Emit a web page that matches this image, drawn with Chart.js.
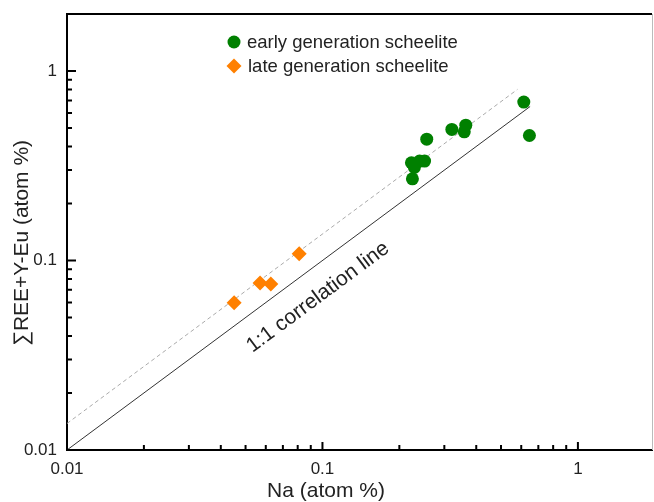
<!DOCTYPE html>
<html>
<head>
<meta charset="utf-8">
<script src="https://cdn.jsdelivr.net/npm/chart.js@4.4.0/dist/chart.umd.min.js"></script>
<style>
  html, body { margin: 0; padding: 0; background: #fff; overflow: hidden; }
</style>
</head>
<body>
<canvas id="grafico" width="654" height="502"></canvas>
<script>
// dados (atom %)
const earlyNa  = [0.614, 0.646, 0.256, 0.321, 0.364, 0.359, 0.223, 0.229, 0.240, 0.251, 0.225];
const earlyREE = [0.686, 0.457, 0.437, 0.492, 0.518, 0.478, 0.328, 0.310, 0.335, 0.335, 0.270];
const lateNa   = [0.0451, 0.0570, 0.0628, 0.0811];
const lateREE  = [0.0599, 0.0761, 0.0752, 0.1086];

// linha 1:1 e linha tracejada (ajuste)
const lineNa   = [0.01, 0.65];
const lineREE  = [0.01, 0.65];
const dashNa   = [0.01, 0.58];
const dashREE  = [0.0138, 0.80];

const majorTicks = [0.01, 0.1, 1];
const minorTicks = [0.02, 0.03, 0.04, 0.05, 0.06, 0.07, 0.08, 0.09, 0.2, 0.3, 0.4, 0.5, 0.6, 0.7, 0.8, 0.9];

const seriesLabels = ["early generation scheelite", "late generation scheelite"];
const xTitle = "Na (atom %)";
const yTitle = "\u2211REE+Y-Eu (atom %)";
const lineLabel = "1:1 correlation line";

const GREEN = "#008000";
const ORANGE = "#ff8000";
const FONT = "'Liberation Sans', Arial, sans-serif";

function pontos(xs, ys) {
  return xs.map((x, i) => ({ x: x, y: ys[i] }));
}

// moldura, ticks internos, legenda e textos
const molduraPlugin = {
  id: "moldura",
  afterDraw(chart) {
    const ctx = chart.ctx;
    const a = chart.chartArea;
    const sx = chart.scales.x, sy = chart.scales.y;
    ctx.save();

    // borda superior e direita
    ctx.strokeStyle = "#000";
    ctx.lineWidth = 2;
    ctx.beginPath();
    ctx.moveTo(a.left - 1, a.top);
    ctx.lineTo(a.right, a.top);
    ctx.stroke();
    ctx.strokeStyle = "#bbb";
    ctx.lineWidth = 1;
    ctx.beginPath();
    ctx.moveTo(a.right + 0.5, a.top);
    ctx.lineTo(a.right + 0.5, a.bottom);
    ctx.stroke();

    // ticks para dentro
    ctx.strokeStyle = "#000";
    ctx.lineWidth = 2;
    ctx.beginPath();
    majorTicks.forEach(v => {
      const px = sx.getPixelForValue(v);
      ctx.moveTo(px, a.bottom); ctx.lineTo(px, a.bottom - 8);
      const py = sy.getPixelForValue(v);
      ctx.moveTo(a.left, py); ctx.lineTo(a.left + 9, py);
    });
    minorTicks.forEach(v => {
      const px = sx.getPixelForValue(v);
      ctx.moveTo(px, a.bottom); ctx.lineTo(px, a.bottom - 5);
      const py = sy.getPixelForValue(v);
      ctx.moveTo(a.left, py); ctx.lineTo(a.left + 5, py);
    });
    ctx.stroke();

    // legenda
    ctx.font = "18.5px " + FONT;
    ctx.textBaseline = "middle";
    ctx.textAlign = "left";
    ctx.fillStyle = GREEN;
    ctx.beginPath();
    ctx.arc(234, 42, 6.5, 0, Math.PI * 2);
    ctx.fill();
    ctx.fillStyle = ORANGE;
    ctx.beginPath();
    ctx.moveTo(234 - 7.5, 66); ctx.lineTo(234, 66 - 7.5);
    ctx.lineTo(234 + 7.5, 66); ctx.lineTo(234, 66 + 7.5);
    ctx.closePath();
    ctx.fill();
    ctx.fillStyle = "#222";
    ctx.fillText(seriesLabels[0], 247, 43);
    ctx.fillText(seriesLabels[1], 248, 67);

    // texto da linha 1:1, girado no angulo da linha
    const p1x = sx.getPixelForValue(0.01), p1y = sy.getPixelForValue(0.01);
    const p2x = sx.getPixelForValue(1), p2y = sy.getPixelForValue(1);
    const ang = Math.atan2(p2y - p1y, p2x - p1x);
    ctx.save();
    ctx.translate(sx.getPixelForValue(0.096), sy.getPixelForValue(0.064));
    ctx.rotate(ang);
    ctx.font = "21px " + FONT;
    ctx.textAlign = "center";
    ctx.fillText(lineLabel, 0, 0);
    ctx.restore();

    // titulos dos eixos
    ctx.font = "21px " + FONT;
    ctx.textAlign = "center";
    ctx.fillText(xTitle, 326, 491);
    ctx.save();
    ctx.translate(22, 243);
    ctx.rotate(-Math.PI / 2);
    ctx.fillText(yTitle, 0, 0);
    ctx.restore();

    ctx.restore();
  }
};

function eixo(tamanho, horizontal, maximo) {
  return {
    type: "logarithmic",
    min: 0.01,
    max: maximo,
    afterFit: s => {
      if (horizontal) s.height = tamanho; else s.width = tamanho;
      // sem espaco extra para os rotulos das pontas
      s.paddingTop = 0; s.paddingBottom = 0;
      s.paddingLeft = 0; s.paddingRight = 0;
    },
    afterBuildTicks: s => { s.ticks = majorTicks.map(v => ({ value: v })); },
    grid: { display: false, drawTicks: false },
    border: { display: true, color: "#000", width: 2 },
    ticks: {
      padding: horizontal ? 9 : 10,
      color: "#222",
      font: { family: FONT, size: 17 },
      autoSkip: false,
      maxRotation: 0,
      callback: v => String(v)
    }
  };
}

const ctx = document.getElementById("grafico");
new Chart(ctx, {
  type: "scatter",
  data: {
    datasets: [
      {
        label: seriesLabels[0],
        data: pontos(earlyNa, earlyREE),
        pointStyle: "circle",
        pointRadius: 6.5,
        backgroundColor: GREEN,
        borderColor: GREEN,
        borderWidth: 0
      },
      {
        label: seriesLabels[1],
        data: pontos(lateNa, lateREE),
        pointStyle: "rectRot",
        pointRadius: 7.5,
        backgroundColor: ORANGE,
        borderColor: ORANGE,
        borderWidth: 0
      },
      {
        type: "line",
        label: "1:1",
        data: pontos(lineNa, lineREE),
        borderColor: "#333",
        borderWidth: 1,
        pointRadius: 0,
        fill: false
      },
      {
        type: "line",
        label: "tracejada",
        data: pontos(dashNa, dashREE),
        borderColor: "#aaa",
        borderWidth: 1,
        borderDash: [4, 3],
        pointRadius: 0,
        fill: false
      }
    ]
  },
  options: {
    responsive: false,
    animation: false,
    // autoPadding reservava espaco para o raio dos pontos
    layout: { autoPadding: false, padding: { top: 14, right: 2, left: 0, bottom: 0 } },
    plugins: { legend: { display: false }, tooltip: { enabled: false } },
    scales: {
      x: eixo(52, true, 1.95),
      y: eixo(67, false, 2)
    }
  },
  plugins: [molduraPlugin]
});
</script>
</body>
</html>
